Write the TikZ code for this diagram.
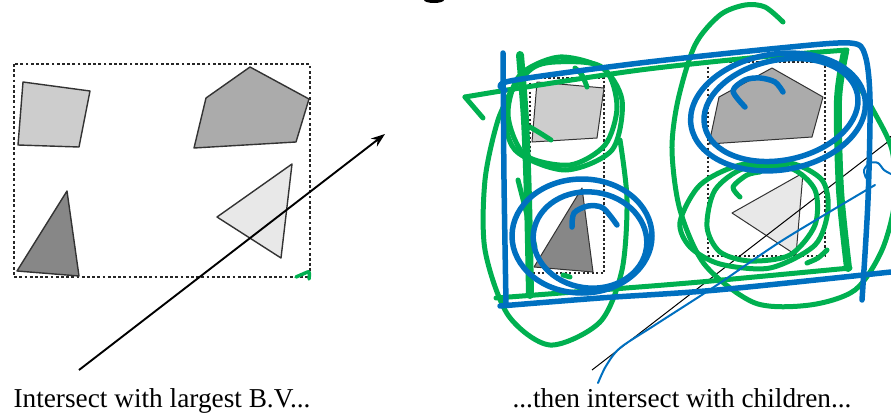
\documentclass[tikz,border=0pt]{standalone}
\usepackage{fontspec}
\setmainfont{Liberation Serif}
\usetikzlibrary{arrows.meta}
\definecolor{penGreen}{HTML}{00B050}
\definecolor{penBlue}{HTML}{0070C0}
\definecolor{fillA}{HTML}{CDCDCD}
\definecolor{fillB}{HTML}{ABABAB}
\definecolor{fillC}{HTML}{878787}
\definecolor{fillD}{HTML}{E8E8E8}
\tikzset{
  polyL/.style={draw=black!80, line width=1.4pt, line join=round},
  polyR/.style={draw=black!80, line width=1pt, line join=round},
  bvboxL/.style={draw=black!85, line width=1.8pt, dash pattern=on 2.8pt off 2.4pt},
  bvboxR/.style={draw=black!85, line width=1.4pt, dash pattern=on 2.3pt off 2.2pt},
  rayL/.style={draw=black, line width=1.9pt, -{Stealth[length=14pt,width=10pt]}},
  rayR/.style={draw=black, line width=1pt, -{Stealth[length=10pt,width=8pt]}},
  gpen/.style={draw=penGreen, line width=5pt, line cap=round, line join=round},
  gthick/.style={draw=penGreen, line width=8pt, line cap=round, line join=round},
  bpen/.style={draw=penBlue, line width=5.5pt, line cap=round, line join=round},
  bthin/.style={draw=penBlue, line width=2pt, line cap=round, line join=round},
  caption/.style={font=\fontsize{27.3}{30}\selectfont, anchor=base, inner sep=0pt},
}
\begin{document}
\begin{tikzpicture}[x=1pt,y=-1pt]
\useasboundingbox (0,0) rectangle (891,415);
\clip (0,0) rectangle (891,415);
% clipped title descender
\fill[black] (434,0) ellipse [x radius=10, y radius=3];

% ---------------- left panel ----------------
\draw[bvboxL] (14,64) rectangle (310,277);
\draw[polyL, fill=fillA] (23,82) -- (90,91) -- (79,147) -- (18,145) -- cycle;
\draw[polyL, fill=fillB] (250,67) -- (309,99) -- (296,142) -- (194,148) -- (206,98) -- cycle;
\draw[polyL, fill=fillC] (67,191) -- (79,276) -- (17,271) -- cycle;
\draw[polyL, fill=fillD] (292,164) -- (281,258) -- (217,217) -- cycle;
\coordinate (rl0) at (79,370);
\coordinate (rl1) at (385,134);
\draw[rayL] (rl0) -- (rl1);
\draw[draw=penGreen, line width=3.5pt, line cap=round, line join=round]
  plot[smooth] coordinates {(296,277) (303,274) (309,272) (309,279)};
\node[caption] (capL) at (162,407) {Intersect with largest B.V...};

% ---------------- right panel ----------------
\draw[bvboxR] (530,78) rectangle (604,273);
\draw[bvboxR] (708,62) rectangle (825,256);
\draw[polyR, fill=fillA] (537,82) -- (604,88) -- (597,138) -- (532,142) -- cycle;
\draw[polyR, fill=fillB] (772,68) -- (823,97) -- (812,137) -- (709,144) -- (719,97) -- cycle;
\draw[polyR, fill=fillC] (582,188) -- (593,272) -- (534,267) -- cycle;
\draw[polyR, fill=fillD] (803,173) -- (796,255) -- (732,213) -- cycle;
\coordinate (rr0) at (592,370);
\coordinate (rr1) at (898,134);
\draw[rayR] (rr0) -- (rr1);

% green pen strokes
\draw[gpen] plot[smooth] coordinates {(465,97) (520,88) (640,70) (760,57) (847,50)};
\draw[gpen] (465,97) -- (483,118);
\draw[gthick] plot[smooth] coordinates {(845,52) (838,100) (840,190) (848,268)};
\draw[gpen] plot[smooth] coordinates {(496,298) (600,290) (700,282) (850,268)};
\draw[gthick] plot[smooth] coordinates {(520,55) (525,120) (528,200) (530,295)};
\draw[gpen] plot[smooth] coordinates {(518,180) (527,215) (535,247)};
\draw[gpen] plot[smooth] coordinates {(620,140) (627,200) (622,270) (600,322) (550,345) (508,315) (485,250) (485,180) (498,120) (515,85)};
\draw[gpen] plot[smooth cycle] coordinates {(560,57) (605,70) (617,107) (605,145) (570,165) (525,155) (508,115) (520,75)};
\draw[gpen] plot[smooth cycle] coordinates {(555,62) (600,66) (622,100) (612,150) (565,170) (515,150) (505,105) (530,70)};
\draw[gpen] plot[smooth] coordinates {(587,87) (582,75) (575,68)};
\draw[gpen] plot[smooth] coordinates {(551,140) (540,133) (530,127)};
\draw[gpen] (563,275) -- (570,277);
\draw[gpen] plot[smooth] coordinates {(783,22) (765,7) (745,5) (720,15) (695,45) (678,100) (672,150) (680,210) (705,265) (755,303) (810,305) (855,290) (882,250) (895,200) (892,150) (873,110) (850,72)};
\draw[gpen] plot[smooth cycle] coordinates {(680,222) (700,185) (740,165) (790,163) (822,180) (828,210) (815,245) (770,268) (720,264) (690,247)};
\draw[gpen] plot[smooth cycle] coordinates {(707,227) (715,190) (745,168) (790,168) (815,190) (815,225) (790,255) (750,261) (720,252)};
\draw[gpen] plot[smooth] coordinates {(740,197) (733,187) (747,175) (760,172)};
\draw[gpen] plot[smooth] coordinates {(807,263) (818,258) (827,250)};

% blue pen strokes
\draw[bpen] plot[smooth] coordinates {(503,53) (504,180) (506,303)};
\draw[bpen] plot[smooth] coordinates {(505,90) (510,81) (640,63) (780,48) (850,43) (865,55) (870,100) (868,200) (862,300)};
\draw[bpen] plot[smooth] coordinates {(500,306) (600,298) (717,290) (891,272)};
\draw[bpen, rotate around={9:(778,112)}] (778,112) ellipse [x radius=88, y radius=58];
\draw[bpen, rotate around={12:(781,110)}] (781,110) ellipse [x radius=78, y radius=50];
\draw[bpen] plot[smooth] coordinates {(745,107) (733,91) (745,80) (760,78) (775,82) (783,92)};
\draw[bpen] (582,236) ellipse [x radius=70, y radius=57];
\draw[bpen, rotate around={-8:(590,240)}] (590,240) ellipse [x radius=57, y radius=48];
\draw[bpen] plot[smooth] coordinates {(572,227) (574,213) (588,206) (603,208) (617,225)};
\draw[bthin] plot[smooth] coordinates {(598,383) (606,366) (620,348) (655,325) (717,285) (783,240) (875,185)};
\draw[bthin] plot[smooth] coordinates {(866,178) (864,170) (870,163) (878,163) (884,170) (891,174)};

\node[caption] (capR) at (682,407) {...then intersect with children...};
\end{tikzpicture}
\end{document}
